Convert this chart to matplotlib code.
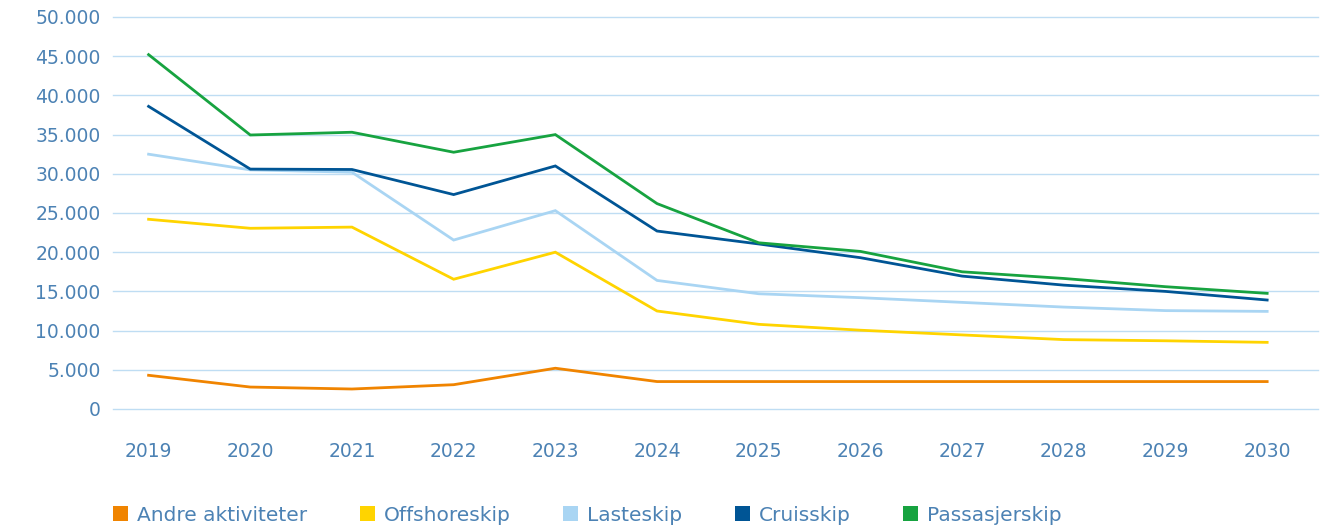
import matplotlib.pyplot as plt
from matplotlib.patches import Patch
from matplotlib.ticker import FuncFormatter

# Data
years = ["2019", "2020", "2021", "2022", "2023", "2024",
         "2025", "2026", "2027", "2028", "2029", "2030"]

andre = [4300, 2800, 2550, 3100, 5200, 3500, 3500, 3500, 3500, 3500, 3500, 3500]
offshore = [24200, 23050, 23200, 16550, 20000, 12500, 10800, 10050, 9450, 8850, 8700, 8500]
laste = [32500, 30500, 30200, 21550, 25300, 16400, 14700, 14200, 13600, 13000, 12550, 12450]
cruise = [38600, 30600, 30550, 27350, 31000, 22700, 21050, 19300, 16950, 15800, 15000, 13900]
passasjer = [45200, 34950, 35300, 32750, 35000, 26200, 21200, 20100, 17500, 16650, 15600, 14750]

labels = ["Andre aktiviteter", "Offshoreskip", "Lasteskip", "Cruisskip", "Passasjerskip"]
colors = ["#F08400", "#FFD400", "#A9D5F3", "#005595", "#17A340"]

plt.rcParams["font.family"] = ["DejaVu Sans"]
text_color = "#4C82B4"
grid_color = "#BFDDF3"

fig = plt.figure(figsize=(13.33, 5.3), dpi=100)
ax = fig.add_axes([113 / 1333, 1 - 409 / 530, (1318 - 113) / 1333, (409 - 17) / 530])

x = list(range(len(years)))
series = [andre, offshore, laste, cruise, passasjer]
for vals, col in zip(series, colors):
    ax.plot(x, vals, color=col, linewidth=2.0, solid_joinstyle="miter")

ax.set_ylim(0, 50000)
ax.set_yticks(range(0, 50001, 5000))
ax.yaxis.set_major_formatter(FuncFormatter(lambda v, p: f"{int(v):,}".replace(",", ".")))
ax.set_xlim(-0.35, 11.5)
ax.set_xticks(x)
ax.set_xticklabels(years)

ax.grid(axis="y", color=grid_color, linewidth=1.0)
for gl in ax.get_ygridlines():
    gl.set_clip_on(False)
ax.set_axisbelow(True)
for s in ax.spines.values():
    s.set_visible(False)
ax.tick_params(axis="both", length=0, labelsize=13.5, colors=text_color)
ax.tick_params(axis="y", pad=9)
ax.tick_params(axis="x", pad=24)

handles = [Patch(facecolor=c, edgecolor="none") for c in colors]
leg = fig.legend(handles, labels, loc="lower left", bbox_to_anchor=(95 / 1333, -0.024),
                 ncol=5, frameon=False, fontsize=14.5, handlelength=0.75, handleheight=0.75,
                 handletextpad=0.45, columnspacing=2.6)
for t in leg.get_texts():
    t.set_color(text_color)

fig.savefig("out.png", dpi=100)
